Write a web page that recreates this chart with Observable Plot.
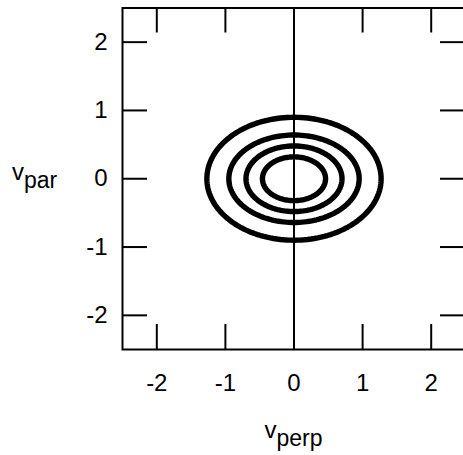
<!DOCTYPE html>
<html><head><meta charset="utf-8">
<script src="https://cdn.jsdelivr.net/npm/d3@7"></script>
<script src="https://cdn.jsdelivr.net/npm/@observablehq/plot@0.6"></script>
<style>body{margin:0;background:#fff} svg{display:block}</style>
</head><body><div id="chart"></div>
<script>
// Tick values
const xTicks = [-2, -1, 0, 1, 2];
const yTicks = [-2, -1, 0, 1, 2];
// Contour ellipses (semi-axes)
const contourLevel = [1, 2, 3, 4];
const semiPerp = [1.27, 0.95, 0.70, 0.46];
const semiPar = [0.90, 0.64, 0.48, 0.32];
// Axis labels
const xLabel = "v", xSub = "perp";
const yLabel = "v", ySub = "par";

const pts = [];
contourLevel.forEach((c, i) => {
  const n = 160;
  for (let k = 0; k < n; k++) {
    const t = 2 * Math.PI * k / n;
    pts.push({c, x: semiPerp[i] * Math.cos(t), y: semiPar[i] * Math.sin(t)});
  }
});

const W = 463, H = 455, mL = 122, mR = -2, mT = 7.5, mB = 106;
const innerH = H - mT - mB, innerW = W - mL - mR;
const tickLen = 25;
const fmt = d => String(d);

const plot = Plot.plot({
  width: W, height: H,
  marginLeft: mL, marginRight: mR, marginTop: mT, marginBottom: mB,
  x: {domain: [-2.5, 2.5]},
  y: {domain: [-2.5, 2.5]},
  style: {fontFamily: "'Liberation Sans', Arial, Helvetica, sans-serif", fontSize: "24px", color: "#000", background: "#fff", overflow: "hidden"},
  marks: [
    Plot.axisX(xTicks, {anchor: "bottom", tickSize: 0, tickPadding: 24, fontSize: 24, tickFormat: fmt, label: null}),
    Plot.axisY(yTicks, {anchor: "left", tickSize: 0, tickPadding: 15, fontSize: 24, tickFormat: fmt, label: null}),
    Plot.tickX(xTicks, {x: d => d, insetTop: innerH - tickLen, strokeWidth: 2}),
    Plot.tickX(xTicks, {x: d => d, insetBottom: innerH - tickLen, strokeWidth: 2}),
    Plot.tickY(yTicks, {y: d => d, insetRight: innerW - tickLen, strokeWidth: 2}),
    Plot.tickY(yTicks, {y: d => d, insetLeft: innerW - tickLen, strokeWidth: 2}),
    Plot.ruleX([0], {strokeWidth: 2}),
    Plot.line(pts, {x: "x", y: "y", z: "c", curve: "linear-closed", strokeWidth: 5.4}),
    Plot.frame({strokeWidth: 2})
  ]
});

const sx = plot.scale("x"), sy = plot.scale("y");
const svg = d3.select(plot);
const tx = svg.append("text").attr("x", sx.apply(0)).attr("y", 438)
  .attr("text-anchor", "middle").attr("fill", "#000").style("font-size", "24px");
tx.append("tspan").text(xLabel);
tx.append("tspan").attr("dy", 8).style("font-size", "23px").text(xSub);

const ty = svg.append("text").attr("x", 12).attr("y", sy.apply(0) + 2)
  .attr("text-anchor", "start").attr("fill", "#000").style("font-size", "24px");
ty.append("tspan").text(yLabel);
ty.append("tspan").attr("dy", 8).style("font-size", "23px").text(ySub);

document.getElementById("chart").appendChild(plot);
</script>
</body></html>
